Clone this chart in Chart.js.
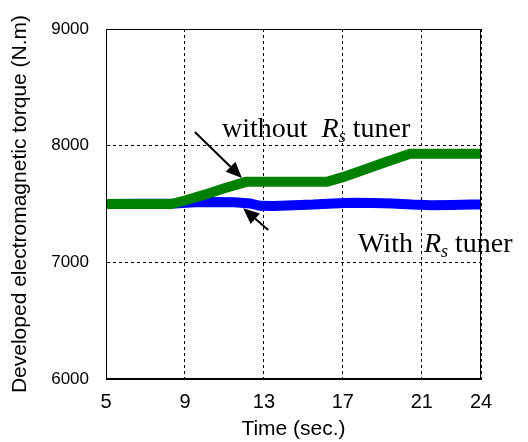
<!DOCTYPE html>
<html>
<head>
<meta charset="utf-8">
<script src="https://cdn.jsdelivr.net/npm/chart.js@4.4.1/dist/chart.umd.min.js"></script>
<style>
  html, body { margin: 0; padding: 0; background: #fff; }
  #wrap { width: 528px; height: 442px; position: relative; }
</style>
</head>
<body>
<div id="wrap"><canvas id="torque-chart"></canvas></div>
<script>
'use strict';

// ── Data ───────────────────────────────────────────────────────────────────
const xTicks = [5, 9, 13, 17, 21, 24];
const yTicks = [6000, 7000, 8000, 9000];

// without Rs tuner (green)
const timeNoTuner   = [5, 8.3, 9, 10, 11, 12.1, 14, 16.2, 17, 18, 19, 20.4, 22, 24];
const torqueNoTuner = [7500, 7500, 7530, 7580, 7635, 7690, 7690, 7690, 7730, 7790, 7850, 7930, 7930, 7930];

// with Rs tuner (blue)
const timeTuner   = [5, 8.5, 9.5, 10.5, 11.5, 12.3, 12.8, 13.5, 14.5, 15.5, 16.5, 17.5, 18.5, 19.5, 20.5, 21.5, 22.5, 23.5, 24];
const torqueTuner = [7500, 7505, 7515, 7518, 7515, 7505, 7485, 7482, 7490, 7495, 7505, 7510, 7508, 7505, 7495, 7490, 7492, 7495, 7495];

// annotation anchors, in data units
const arrowNoTuner = { from: [9.5, 8117], to: [11.89, 7723] };
const arrowTuner   = { from: [13.22, 7277], to: [11.95, 7463] };
const labelNoTuner = { at: [10.88, 8074], pre: 'without', gap: 14 };
const labelTuner   = { at: [17.77, 7089], pre: 'With', gap: 11 };

const toPoints = (xs, ys) => xs.map((x, i) => ({ x, y: ys[i] }));

// ── Annotations: arrows + "R_s" labels, plus the box round the plot ───────
function drawArrow(ctx, x1, y1, x2, y2) {
  const ang = Math.atan2(y2 - y1, x2 - x1);
  const headLen = 16, headW = 7;
  const bx = x2 - headLen * Math.cos(ang), by = y2 - headLen * Math.sin(ang);
  ctx.strokeStyle = '#000';
  ctx.fillStyle = '#000';
  ctx.lineWidth = 2;
  ctx.beginPath();
  ctx.moveTo(x1, y1);
  ctx.lineTo(bx, by);
  ctx.stroke();
  ctx.beginPath();
  ctx.moveTo(x2, y2);
  ctx.lineTo(bx + headW * Math.sin(ang), by - headW * Math.cos(ang));
  ctx.lineTo(bx - headW * Math.sin(ang), by + headW * Math.cos(ang));
  ctx.closePath();
  ctx.fill();
}

function drawRsLabel(ctx, x, y, pre, gap) {
  ctx.fillStyle = '#000';
  ctx.textBaseline = 'alphabetic';
  ctx.textAlign = 'left';
  ctx.font = '28px "Liberation Serif", "Times New Roman", serif';
  ctx.fillText(pre, x, y);
  x += ctx.measureText(pre).width + gap;
  ctx.font = 'italic 28px "Liberation Serif", "Times New Roman", serif';
  ctx.fillText('R', x, y);
  x += ctx.measureText('R').width;
  ctx.font = 'italic 18px "Liberation Serif", "Times New Roman", serif';
  ctx.fillText('s', x, y + 5);
  x += ctx.measureText('s').width + 7;
  ctx.font = '28px "Liberation Serif", "Times New Roman", serif';
  ctx.fillText('tuner', x, y);
}

const annotations = {
  id: 'annotations',
  afterDatasetsDraw(chart) {
    const { ctx, chartArea: a, scales: { x, y } } = chart;
    ctx.save();
    ctx.strokeStyle = '#000';
    ctx.lineWidth = 1;
    ctx.setLineDash([]);
    ctx.strokeRect(a.left + 0.5, a.top + 0.5, a.right - a.left - 1, a.bottom - a.top - 1);

    [arrowNoTuner, arrowTuner].forEach(ar => {
      drawArrow(ctx,
        x.getPixelForValue(ar.from[0]), y.getPixelForValue(ar.from[1]),
        x.getPixelForValue(ar.to[0]),   y.getPixelForValue(ar.to[1]));
    });
    [labelNoTuner, labelTuner].forEach(lb => {
      drawRsLabel(ctx, x.getPixelForValue(lb.at[0]), y.getPixelForValue(lb.at[1]), lb.pre, lb.gap);
    });
    ctx.restore();
  }
};

const gridColor = c => (c.tick && (c.tick.value === 5 || c.tick.value === 6000 || c.tick.value === 9000)) ? 'rgba(0,0,0,0)' : '#000';

new Chart(document.getElementById('torque-chart'), {
  type: 'line',
  data: {
    datasets: [
      { label: 'without Rs tuner', data: toPoints(timeNoTuner, torqueNoTuner),
        borderColor: '#008000', borderWidth: 10, pointRadius: 0, tension: 0, fill: false },
      { label: 'With Rs tuner', data: toPoints(timeTuner, torqueTuner),
        borderColor: '#0000ff', borderWidth: 10, pointRadius: 0, tension: 0, fill: false }
    ]
  },
  options: {
    responsive: true,
    maintainAspectRatio: false,
    animation: false,
    layout: { padding: { top: 29, right: 47, left: 0, bottom: 0 } },
    plugins: { legend: { display: false }, tooltip: { enabled: false } },
    scales: {
      x: {
        type: 'linear', min: 5, max: 24,
        afterBuildTicks: s => { s.ticks = xTicks.map(v => ({ value: v })); },
        afterFit: s => { s.height = 63; },
        grid: { color: gridColor, lineWidth: 1, drawTicks: false },
        border: { display: true, color: '#000', width: 1, dash: [3, 3] },
        ticks: { color: '#000', padding: 11, maxRotation: 0, autoSkip: false,
                 callback: v => String(v),
                 font: { family: '"Liberation Sans", Arial, sans-serif', size: 20 } },
        title: { display: true, text: 'Time (sec.)', color: '#000', padding: { top: 2, bottom: 0 },
                 font: { family: '"Liberation Sans", Arial, sans-serif', size: 21 } }
      },
      y: {
        min: 6000, max: 9000,
        afterBuildTicks: s => { s.ticks = yTicks.map(v => ({ value: v })); },
        afterFit: s => { s.width = 106; },
        grid: { color: gridColor, lineWidth: 1, drawTicks: false },
        border: { display: true, color: '#000', width: 1, dash: [3, 3] },
        ticks: { color: '#000', padding: 17, callback: v => String(v),
                 font: { family: '"Liberation Sans", Arial, sans-serif', size: 17 } },
        title: { display: true, text: 'Developed electromagnetic torque (N.m)', color: '#000',
                 padding: { top: 8, bottom: 0 },
                 font: { family: '"Liberation Sans", Arial, sans-serif', size: 21 } }
      }
    }
  },
  plugins: [annotations]
});
</script>
</body>
</html>
